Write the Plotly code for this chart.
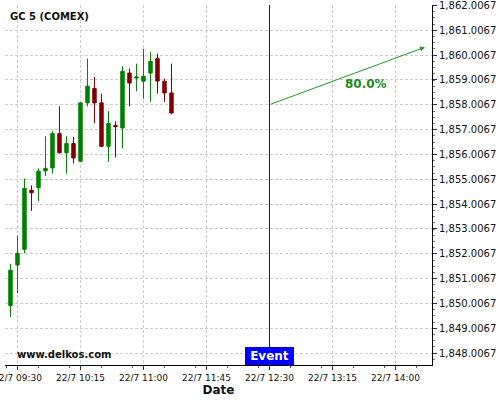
import pandas as pd
import plotly.graph_objects as go

# 5-minute candles, 22/7
times = pd.date_range("2014-07-22 09:25", periods=24, freq="5min")
opens = [1849.92, 1851.55, 1852.18, 1854.56, 1854.66, 1855.34, 1855.46, 1856.84,
         1856.07, 1856.44, 1855.73, 1858.08, 1858.66, 1858.08, 1856.33, 1857.17,
         1857.07, 1859.28, 1859.08, 1858.95, 1859.28, 1859.86, 1858.95, 1858.48]
highs = [1851.60, 1852.73, 1855.03, 1854.76, 1855.44, 1856.74, 1856.94, 1857.94,
         1856.74, 1856.71, 1858.10, 1859.86, 1859.12, 1858.45, 1857.74, 1857.34,
         1859.55, 1859.46, 1859.66, 1860.26, 1860.13, 1860.06, 1859.06, 1859.66]
lows = [1849.45, 1850.41, 1852.02, 1853.73, 1854.13, 1855.13, 1855.23, 1856.04,
        1855.23, 1855.64, 1855.71, 1857.94, 1857.25, 1856.31, 1855.70, 1855.88,
        1856.24, 1857.94, 1858.55, 1858.25, 1858.12, 1858.45, 1858.12, 1857.62]
closes = [1851.34, 1852.02, 1854.63, 1854.46, 1855.33, 1855.44, 1856.84, 1856.07,
          1856.44, 1855.86, 1858.08, 1858.75, 1858.08, 1856.33, 1857.25, 1857.12,
          1859.35, 1858.88, 1859.12, 1859.15, 1859.75, 1858.96, 1858.48, 1857.67]

# event / forecast arrow
event_time = "2014-07-22 12:30"
event_price = 1858.0067
target_time = "2014-07-22 14:21"
target_price = 1860.32
label_time = "2014-07-22 13:39"
label_price = 1858.83
label_text = "80.0%"

x_range = ["2014-07-22 09:21:05", "2014-07-22 14:26:05"]
y_range = [1847.524, 1862.02]

FONT = "DejaVu Sans"

fig = go.Figure()

fig.add_trace(go.Candlestick(
    x=times,
    open=opens,
    high=highs,
    low=lows,
    close=closes,
    increasing=dict(line=dict(color="#008000", width=1), fillcolor="#008000"),
    decreasing=dict(line=dict(color="#800000", width=1), fillcolor="#800000"),
    showlegend=False,
    hoverinfo="skip",
))

# event marker line
fig.add_shape(type="line", x0=event_time, x1=event_time, xref="x",
              y0=0, y1=1, yref="paper", line=dict(color="#0000ff", width=1))

fig.add_annotation(x=event_time, y=0, xref="x", yref="paper",
                   yanchor="bottom", text="<b>Event</b>", showarrow=False,
                   bgcolor="#0000ff", borderpad=2, borderwidth=0,
                   width=45, height=14,
                   font=dict(family=FONT, size=12, color="white"))

# forecast arrow
fig.add_annotation(x=target_time, y=target_price, ax=event_time, ay=event_price,
                   xref="x", yref="y", axref="x", ayref="y", text="",
                   showarrow=True, arrowhead=2, arrowsize=1, arrowwidth=1,
                   arrowcolor="#229922")
fig.add_annotation(x=label_time, y=label_price, xref="x", yref="y",
                   text=f"<b>{label_text}</b>", showarrow=False,
                   font=dict(family=FONT, size=12, color="#1a8a1a"))

fig.add_annotation(x=0.008, y=0.99, xref="paper", yref="paper",
                   xanchor="left", yanchor="top", text="<b>GC 5 (COMEX)</b>",
                   showarrow=False, font=dict(family=FONT, size=10, color="#111"))
fig.add_annotation(x=0.023, y=0.03, xref="paper", yref="paper",
                   xanchor="left", yanchor="middle", text="<b>www.delkos.com</b>",
                   showarrow=False, font=dict(family=FONT, size=10, color="#111"))

fig.update_layout(
    width=500, height=400,
    margin=dict(l=5, r=68, t=5, b=35),
    paper_bgcolor="white", plot_bgcolor="white",
    font=dict(family=FONT, color="#111"),
    xaxis=dict(
        range=x_range,
        automargin=False,
        rangeslider_visible=False,
        tick0="2014-07-22 09:30", dtick=45 * 60 * 1000,
        tickformat="%-d/%-m %H:%M",
        tickfont=dict(size=9),
        ticklabeloverflow="allow",
        ticks="outside", ticklen=4, tickcolor="#333",
        showline=True, linecolor="black", linewidth=1,
        showgrid=True, gridcolor="#cccccc", griddash="3px,2px", gridwidth=1,
        zeroline=False,
        minor=dict(ticks="outside", ticklen=2, dtick=22.5 * 60 * 1000, tickcolor="#555"),
        title=dict(text="<b>Date</b>", font=dict(size=12), standoff=3),
    ),
    yaxis=dict(
        range=y_range,
        automargin=False,
        side="right",
        tick0=1848.0067, dtick=1,
        tickformat=",.4f",
        tickfont=dict(size=10),
        ticklabeloverflow="allow",
        ticks="outside", ticklen=4, tickcolor="#333",
        showline=True, linecolor="black", linewidth=1,
        showgrid=True, gridcolor="#cccccc", griddash="3px,2px", gridwidth=1,
        zeroline=False,
        minor=dict(ticks="outside", ticklen=2, dtick=0.25, tickcolor="#777"),
    ),
)

fig.write_html("out.html", config={"displayModeBar": False},
               post_script="document.body.style.margin='0';")
